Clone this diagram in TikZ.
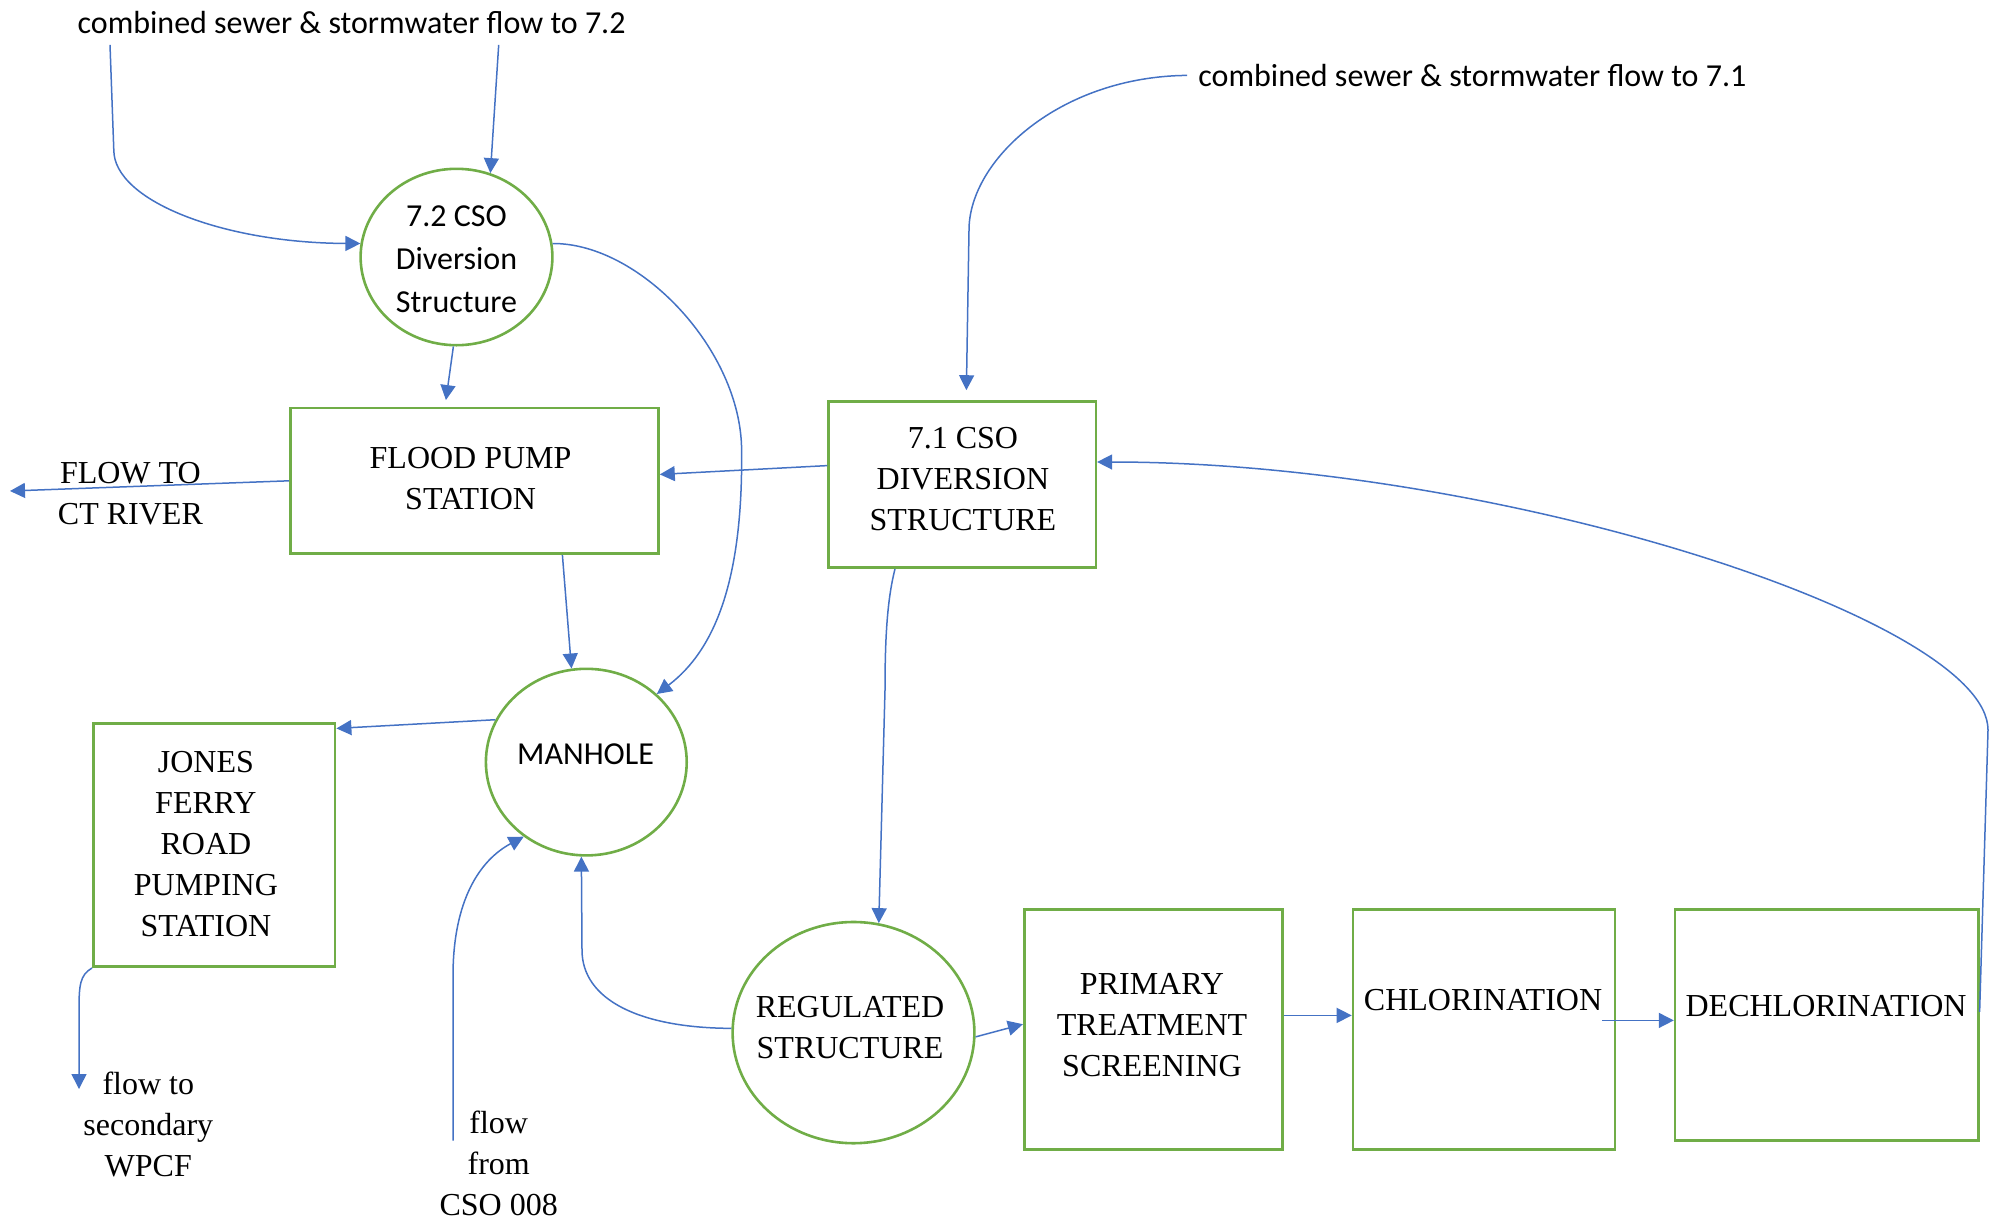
\documentclass[tikz,border=0pt]{standalone}
\usepackage{fontspec}
\setmainfont{Liberation Serif}
\newfontfamily\calib{Carlito}
\usetikzlibrary{arrows.meta,shapes.geometric}
\definecolor{blu}{HTML}{4472C4}
\definecolor{grn}{HTML}{70AD47}
\begin{document}
\begin{tikzpicture}[x=0.5pt,y=-0.5pt,
  box/.style={draw=grn,line width=1.3pt,inner sep=0pt},
  oval/.style={ellipse,draw=grn,line width=1.3pt,inner sep=0pt},
  flow/.style={draw=blu,line width=0.75pt,-{Triangle[length=7.5pt,width=7.5pt]}},
  lbl/.style={font=\fontsize{16}{20.5}\selectfont,align=center,inner sep=0pt},
  clbl/.style={font=\calib\fontsize{16}{21.5}\selectfont,align=center,inner sep=0pt}]
\useasboundingbox (0,0) rectangle (2005,1221);
% shapes
\node[oval,minimum width=95.9pt,minimum height=88.2pt] (c72) at (456.5,257) {};
\node[box,minimum width=184.1pt,minimum height=72.9pt] (fp) at (474.4,480.8) {};
\node[box,minimum width=133.6pt,minimum height=83.1pt] (c71) at (962.2,484.6) {};
\node[oval,minimum width=100.4pt,minimum height=93.3pt] (mh) at (586.3,762.1) {};
\node[box,minimum width=120.9pt,minimum height=121.5pt] (jf) at (214.2,845.2) {};
\node[oval,minimum width=120.9pt,minimum height=110.6pt] (reg) at (853.5,1032.6) {};
\node[box,minimum width=129.2pt,minimum height=120.2pt] (pr) at (1153.4,1029.4) {};
\node[box,minimum width=131pt,minimum height=120.2pt] (ch) at (1484,1029.4) {};
\node[box,minimum width=151.6pt,minimum height=115.7pt] (dc) at (1826.7,1024.9) {};
% texts
\node[clbl] (t72) at (351.6,23) {combined sewer \& stormwater flow to 7.2};
\node[clbl,anchor=west] (t71) at (1198,75.4) {combined sewer \& stormwater flow to 7.1};
\node[clbl] (c72t) at (456.5,259) {7.2 CSO\\Diversion\\Structure};
\node[lbl] (fpt) at (470.6,478.3) {FLOOD PUMP\\STATION};
\node[lbl] (c71t) at (962.9,478.9) {7.1 CSO\\DIVERSION\\STRUCTURE};
\node[clbl] (mht) at (585.6,754.4) {MANHOLE};
\node[lbl] (jft) at (205.9,844.5) {JONES\\FERRY\\ROAD\\PUMPING\\STATION};
\node[lbl] (regt) at (850,1028) {REGULATED\\STRUCTURE};
\node[lbl] (prt) at (1152,1025.5) {PRIMARY\\TREATMENT\\SCREENING};
\node[lbl] (cht) at (1483,1000) {CHLORINATION};
\node[lbl] (dct) at (1826,1006.3) {DECHLORINATION};
\node[lbl] (rivt) at (130.4,493.5) {FLOW TO\\CT RIVER};
\node[lbl] (wpcft) at (148.3,1124) {flow to\\secondary\\WPCF};
\node[lbl] (csot) at (498.7,1163.6) {flow\\from\\CSO 008};
% free ends
\coordinate (s72a) at (110,44.8);
\coordinate (s72b) at (498.7,44.8);
\coordinate (river) at (10,491);
\coordinate (wpcf) at (79,1089);
\coordinate (cso) at (453,1140.6);
% connectors
\draw[flow] (s72a) -- (113.8,150) .. controls (113.8,201) and (224,243) .. (c72.172);
\draw[flow] (s72b) -- (c72.68);
\draw[flow,shorten >=3.3pt] (c72.-92) -- ([xshift=-14.7pt]fp.north);
\draw[flow] (c72.8) .. controls (640,243) and (741,350) .. (741.6,450) .. controls (743,580) and (715,650) .. (mh.44);
\draw[flow] ([yshift=9.5pt]c71.west) -- ([yshift=3.2pt]fp.east);
\draw[flow] (fp.west) -- (river);
\draw[flow] ([xshift=44pt]fp.south) -- (mh.99);
\draw[flow] (mh.155) -- ([yshift=-3pt]jf.north east);
\draw[flow] (jf.south west) .. controls (80,975) and (79,985) .. (79,1010) -- (wpcf);
\draw[flow] (cso) -- (453,976) .. controls (453,900) and (480,860) .. (mh.-130);
\draw[flow] (reg.178) .. controls (640,1028) and (582,1000) .. (582,950) -- (mh.-93);
\draw[flow] ([xshift=-33.6pt]c71.south) .. controls (887,600) and (885,640) .. (885,690) -- (reg.77);
\draw[flow] (reg.-2) -- ([yshift=2.6pt]pr.west);
\draw[flow] ([yshift=7pt]pr.east) -- ([yshift=7pt]ch.west);
\draw[flow] ([xshift=-7pt,yshift=4.5pt]ch.east) -- ([yshift=2.25pt]dc.west);
\draw[flow] ([yshift=6.5pt]dc.east) -- (1988,730) .. controls (1988,620) and (1500,462) .. ([yshift=11.3pt]c71.east);
\draw[flow,shorten >=5pt] ([xshift=-5.5pt]t71.west) .. controls (1060,76.5) and (969,160) .. (969,230) -- ([xshift=2pt]c71.north);
\end{tikzpicture}
\end{document}
